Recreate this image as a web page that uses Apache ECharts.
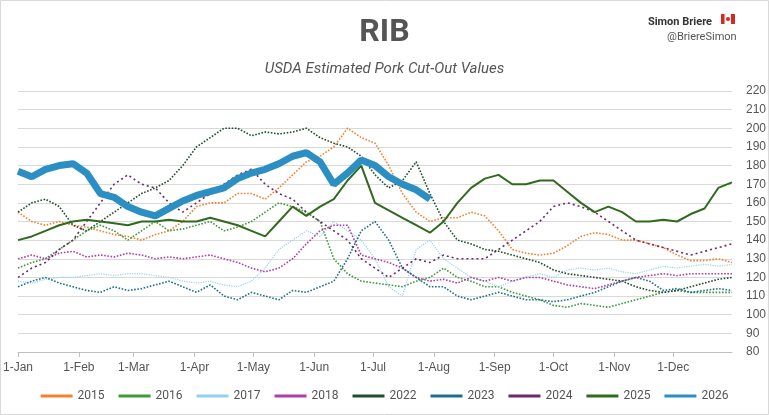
<!DOCTYPE html>
<html lang="en">
<head>
    <meta charset="UTF-8">
    <title>RIB</title>
    <script src="https://cdn.jsdelivr.net/npm/echarts@6/dist/echarts.min.js"></script>
    <style>body{margin:0;background:#fff}</style>
</head>
<body>
    <div id="chart" style="width:769px;height:415px;"></div>
    <script>
        // weekly values, starting 1-Jan, one point every 7 days
        var y2015 = [155,150,148,150,148,147,145,143,142,140,143,145,150,158,160,160,165,165,162,168,175,182,185,190,200,195,192,180,165,155,150,152,152,155,153,145,135,133,132,133,137,142,144,143,140,140,138,136,132,129,129,130,128];
        var y2016 = [125,128,130,135,140,145,148,145,140,145,150,145,146,148,150,145,147,150,155,160,158,155,150,130,122,118,117,116,115,118,120,125,120,118,115,115,112,110,108,105,104,106,105,104,106,108,110,112,113,112,112,112,112];
        var y2017 = [118,117,119,120,120,121,122,121,122,122,121,120,118,117,118,116,115,118,125,135,140,145,142,150,145,140,130,115,110,135,140,130,125,120,118,115,118,120,122,120,124,125,124,125,123,122,124,126,125,126,127,126,127];
        var y2018 = [130,132,130,133,134,131,132,131,133,132,130,131,130,131,132,130,128,125,123,125,130,138,145,148,148,132,130,128,125,120,118,119,117,120,118,120,118,120,120,118,116,115,114,116,118,120,121,122,121,122,122,122,122];
        var y2022 = [155,160,162,158,148,145,150,155,160,165,168,172,180,190,195,200,200,196,198,197,198,200,195,192,190,185,175,168,172,182,165,150,140,138,135,134,132,130,128,124,122,121,120,119,118,115,113,112,113,115,117,119,120];
        var y2023 = [115,118,120,117,115,113,112,115,113,114,116,118,115,112,116,110,108,112,110,108,113,112,115,118,130,145,150,140,125,120,115,115,110,108,110,112,110,108,108,107,108,110,112,115,118,120,118,113,114,112,113,114,113];
        var y2024 = [120,125,128,135,140,150,160,170,175,170,168,160,155,160,165,170,175,178,170,165,162,155,150,145,140,130,125,120,125,130,128,132,130,130,130,135,140,145,150,158,160,158,155,150,145,140,138,136,134,132,134,136,138];
        var y2025 = [140,142,145,148,150,151,150,149,148,150,150,151,150,150,152,150,148,145,142,150,158,153,158,162,172,180,160,156,152,148,144,150,160,168,173,175,170,170,172,172,166,160,155,158,155,150,150,151,150,154,157,168,171];
        var y2026 = [177,174,178,180,181,176,165,163,158,155,153,157,161,164,166,168,173,176,178,181,185,187,182,170,176,183,180,174,170,167,162];

        var monthNames = ['Jan','Feb','Mar','Apr','May','Jun','Jul','Aug','Sep','Oct','Nov','Dec'];
        var monthStart = [0,31,59,90,120,151,181,212,243,273,304,334];

        var days = [];
        for (var d = 0; d < 365; d++) {
            var m = 0;
            while (m < 11 && monthStart[m + 1] <= d) m++;
            days.push((d - monthStart[m] + 1) + '-' + monthNames[m]);
        }
        function weekly(arr) {
            return arr.map(function (v, i) { return [Math.min(i * 7, 364), v]; });
        }
        function isMonth(i) { return monthStart.indexOf(i) >= 0; }

        var chart = echarts.init(document.getElementById('chart'));

        var lines = [
            {name: '2015', data: y2015, color: '#f4812f', type: 'dotted', width: 1.6},
            {name: '2016', data: y2016, color: '#3f9a3c', type: 'dotted', width: 1.6},
            {name: '2017', data: y2017, color: '#93d2ef', type: 'dotted', width: 1.2},
            {name: '2018', data: y2018, color: '#b23da6', type: 'dotted', width: 1.6},
            {name: '2022', data: y2022, color: '#1f4f2a', type: 'dotted', width: 1.6},
            {name: '2023', data: y2023, color: '#1f6e8c', type: 'dotted', width: 1.6},
            {name: '2024', data: y2024, color: '#6b2a68', type: [2, 3], width: 1.6},
            {name: '2025', data: y2025, color: '#2f6a1f', type: 'solid', width: 2},
            {name: '2026', data: y2026, color: '#2b8fc4', type: 'solid', width: 7}
        ];

        var option = {
            animation: false,
            title: [
                {text: 'RIB', left: 'center', top: 12, textStyle: {fontSize: 32, fontWeight: 'bold', color: '#555', fontFamily: 'Roboto'}},
                {text: 'USDA Estimated Pork Cut-Out Values', left: 'center', top: 57, textStyle: {fontSize: 15, fontStyle: 'italic', fontWeight: 'normal', color: '#555', fontFamily: 'Roboto'}},
                {text: 'Simon Briere', right: 52, top: 12, textStyle: {fontSize: 11, fontWeight: 'bold', color: '#333', fontFamily: 'Roboto'}},
                {text: '@BriereSimon', left: 662, top: 27, textStyle: {fontSize: 11, fontWeight: 'normal', color: '#555', fontFamily: 'Roboto'}}
            ],
            graphic: [
                {type: 'rect', shape: {x: 721, y: 14, width: 4, height: 10}, style: {fill: '#d52b1e'}},
                {type: 'rect', shape: {x: 725, y: 14, width: 6, height: 10}, style: {fill: '#fff', stroke: '#eee'}},
                {type: 'rect', shape: {x: 731, y: 14, width: 4, height: 10}, style: {fill: '#d52b1e'}},
                {type: 'circle', shape: {cx: 728, cy: 19, r: 2}, style: {fill: '#d52b1e'}},
                {type: 'rect', shape: {x: 0.5, y: 0.5, width: 768, height: 414}, style: {fill: 'none', stroke: '#d9d9d9'}}
            ],
            legend: {
                bottom: 8,
                left: 'center',
                itemWidth: 32,
                itemHeight: 3,
                itemGap: 14,
                icon: 'rect',
                textStyle: {fontSize: 12, color: '#555', fontFamily: 'Roboto'},
                data: lines.map(function (l) { return l.name; })
            },
            grid: {left: 10, right: 37, top: 91, bottom: 63},
            xAxis: {
                type: 'category',
                data: days,
                boundaryGap: false,
                axisLine: {lineStyle: {color: '#bfbfbf'}},
                axisTick: {interval: function (i) { return isMonth(i); }, length: 5, lineStyle: {color: '#bfbfbf'}},
                axisLabel: {
                    interval: function (i) { return isMonth(i); },
                    color: '#555', fontSize: 12, margin: 10
                }
            },
            yAxis: {
                type: 'value',
                position: 'right',
                min: 80, max: 220, interval: 10,
                axisLine: {show: false},
                axisTick: {show: false},
                axisLabel: {color: '#555', fontSize: 12, margin: 14},
                splitLine: {lineStyle: {color: '#d9d9d9'}}
            },
            series: lines.map(function (l) {
                return {
                    name: l.name,
                    type: 'line',
                    data: weekly(l.data),
                    showSymbol: false,
                    symbol: 'none',
                    color: l.color,
                    lineStyle: {color: l.color, width: l.width, type: l.type}
                };
            })
        };
        chart.setOption(option);
    </script>
</body>
</html>
